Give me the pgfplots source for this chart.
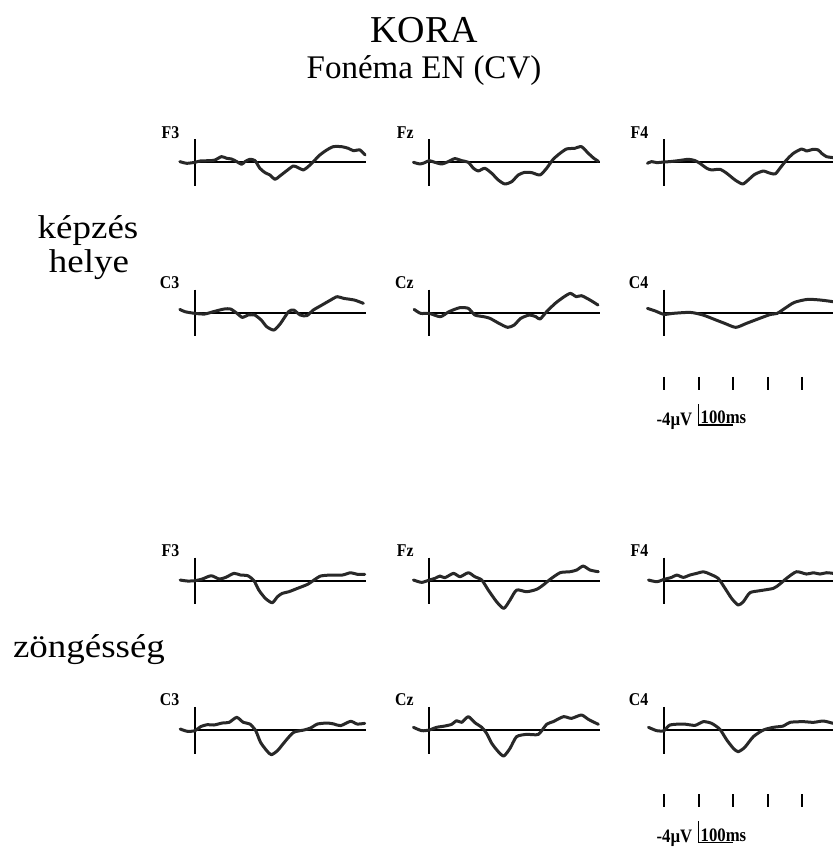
\documentclass[border=0pt]{standalone}
\usepackage{pgfplots}
\pgfplotsset{compat=1.18}
\usepackage{fontspec}
\setmainfont{Liberation Serif}
\newfontfamily\rowfont[FakeStretch=1.12]{Liberation Serif}
\newfontfamily\elfont[FakeStretch=0.88]{Liberation Serif}
\definecolor{wavecol}{RGB}{40,40,40}

\pgfplotsset{
 erp/.style={
   x=0.345pt, y=5.25pt, y dir=reverse,
   xmin=0, xmax=495, ymin=-4.4, ymax=4.5,
   enlargelimits=false,
   axis lines=middle,
   axis line style={black, line width=2pt},
   every inner x axis line/.append style={-},
   every inner y axis line/.append style={-},
   xtick=\empty, ytick=\empty,
   clip=false, anchor=origin,
 },
 wave/.style={color=wavecol, line width=3pt, smooth, tension=0.4, mark=none, line join=round, line cap=round},
}
\newcommand\elab[1]{\node[anchor=base east, inner sep=0pt, yshift=1pt, font=\elfont\bfseries\fontsize{18}{18}\selectfont] at (axis cs:-45,-4.4) {#1};}
\newcommand\scalebar{%
  \draw[black, line width=2pt] (axis cs:0,12.2) -- (axis cs:0,14.7);
  \draw[black, line width=2pt] (axis cs:100,12.2) -- (axis cs:100,14.7);
  \draw[black, line width=2pt] (axis cs:200,12.2) -- (axis cs:200,14.7);
  \draw[black, line width=2pt] (axis cs:300,12.2) -- (axis cs:300,14.7);
  \draw[black, line width=2pt] (axis cs:400,12.2) -- (axis cs:400,14.7);
  \draw[black, line width=1.5pt] (axis cs:100,17.4) -- (axis cs:100,21.4) -- (axis cs:201,21.4);
  \node[anchor=base east, inner sep=0pt, xshift=-6pt, font=\elfont\bfseries\fontsize{19}{19}\selectfont] at (axis cs:100,21.4) {-4µV};
  \node[anchor=base west, inner sep=0pt, xshift=2pt, yshift=1.2pt, font=\elfont\bfseries\fontsize{19}{19}\selectfont] at (axis cs:100,21.4) {100ms};
}

\begin{document}
\begin{tikzpicture}
\useasboundingbox (0,0) rectangle (833pt,-847pt);

% titles
\node[anchor=base, inner sep=0pt, font=\fontsize{38}{40}\selectfont] at (424pt,-42.7pt) {KORA};
\node[anchor=base, inner sep=0pt, font=\fontsize{33}{36}\selectfont] at (424pt,-78.3pt) {Fonéma EN (CV)};
\node[anchor=base, inner sep=0pt, font=\rowfont\fontsize{33}{36}\selectfont] at (88pt,-238pt) {képzés};
\node[anchor=base, inner sep=0pt, font=\rowfont\fontsize{33}{36}\selectfont] at (89pt,-272pt) {helye};
\node[anchor=base, inner sep=0pt, font=\rowfont\fontsize{33}{36}\selectfont] at (89pt,-657pt) {zöngésség};

%% ---------------- képzés helye ----------------
% F3
\begin{axis}[erp, at={(195pt,-162.3pt)}]
\addplot[wave] coordinates {
(-44,-0.13) (-24,0.19) (0,0) (15,-0.25) (44,-0.32) (58,-0.44) (77,-1.08) (92,-0.76)
(106,-0.63) (121,-0.13) (135,0.38) (145,-0.13) (159,-0.57) (174,-0.32) (188,1.14)
(203,1.97) (217,2.41) (232,3.24) (246,2.60) (266,1.59) (285,0.70) (299,1.02) (314,1.46)
(328,0.83) (343,-0.13) (362,-1.40) (382,-2.35) (401,-2.98) (425,-2.98) (444,-2.67)
(459,-2.22) (478,-2.35) (493,-1.40)};
\elab{F3}
\end{axis}
% Fz
\begin{axis}[erp, at={(429.3pt,-162.3pt)}]
\addplot[wave] coordinates {
(-46,0) (-27,0.32) (-13,0.06) (0,-0.32) (16,0) (36,0.32) (55,-0.13) (74,-0.70) (94,-0.32)
(113,0) (128,1.14) (142,1.65) (161,1.14) (181,2.10) (200,3.37) (219,4.13) (239,3.68)
(258,2.41) (277,1.90) (297,1.97) (321,2.41) (340,1.14) (359,-0.57) (379,-1.71)
(398,-2.54) (422,-2.67) (441,-2.98) (461,-1.71) (477,-0.76) (490,-0.19)};
\elab{Fz}
\end{axis}
% F4
\begin{axis}[erp, at={(664pt,-162.3pt)}]
\addplot[wave] coordinates {
(-48,0.19) (-36,-0.13) (-21,0.06) (0,-0.06) (17,-0.13) (42,-0.32) (71,-0.57) (90,-0.32)
(104,0.19) (124,1.14) (138,1.46) (162,1.33) (182,2.10) (206,3.37) (228,4.13) (244,3.37)
(263,2.29) (288,1.65) (302,1.97) (322,2.22) (336,1.14) (355,-0.44) (375,-1.71)
(399,-2.54) (413,-2.16) (433,-2.48) (447,-2.35) (457,-1.71) (471,-1.08) (490,-0.90)};
\elab{F4}
\end{axis}
% C3
\begin{axis}[erp, at={(195pt,-312.7pt)}]
\addplot[wave] coordinates {
(-44,-0.63) (-29,-0.19) (0,0.13) (28,0.25) (53,-0.19) (84,-0.70) (103,-0.70) (122,0.13)
(137,0.89) (154,0.44) (173,0.44) (192,1.40) (208,2.67) (229,3.30) (248,2.03) (271,-0.19)
(286,-0.51) (305,0.44) (324,0.57) (343,-0.51) (368,-1.46) (393,-2.41) (412,-3.05)
(431,-2.73) (462,-2.41) (488,-1.78)};
\elab{C3}
\end{axis}
% Cz
\begin{axis}[erp, at={(429.3pt,-312.7pt)}]
\addplot[wave] coordinates {
(-44,-0.63) (-25,0.13) (0,0.13) (32,0.76) (57,-0.19) (88,-0.95) (113,-0.83) (132,0.44)
(158,0.76) (176,1.08) (202,2.03) (227,2.79) (246,2.35) (265,1.08) (290,0.44) (309,0.76)
(321,1.21) (340,-0.19) (365,-1.78) (391,-3.05) (409,-3.68) (426,-3.05) (441,-3.24)
(466,-2.41) (489,-1.46)};
\elab{Cz}
\end{axis}
% C4
\begin{axis}[erp, at={(664pt,-312.7pt)}]
\addplot[wave] coordinates {
(-48,-0.83) (-25,-0.32) (0,0.32) (25,0.13) (76,-0.06) (113,0.44) (151,1.40) (176,2.03)
(208,2.79) (239,2.03) (277,1.08) (309,0.32) (328,0.13) (353,-0.95) (378,-1.97)
(416,-2.54) (454,-2.41) (490,-2.10)};
\elab{C4}
\scalebar
\end{axis}

%% ---------------- zöngésség ----------------
% F3
\begin{axis}[erp, at={(195pt,-580.7pt)}]
\addplot[wave] coordinates {
(-43,-0.13) (-22,0.06) (0,0) (21,-0.32) (47,-0.95) (70,-0.32) (89,-0.63) (113,-1.40)
(132,-1.08) (153,-0.95) (171,0) (185,1.78) (204,3.37) (224,4.19) (239,3.05) (253,2.41)
(272,2.10) (297,1.46) (326,0.70) (345,-0.13) (364,-0.89) (393,-1.08) (427,-1.08)
(451,-1.52) (471,-1.21) (492,-1.21)};
\elab{F3}
\end{axis}
% Fz
\begin{axis}[erp, at={(429.3pt,-580.7pt)}]
\addplot[wave] coordinates {
(-46,-0.13) (-22,0.32) (0,-0.13) (16,-0.44) (31,-0.89) (45,-0.57) (70,-1.40) (89,-0.76)
(113,-1.52) (132,-0.76) (152,-0.13) (171,1.78) (195,4.00) (216,5.27) (234,3.68)
(253,1.78) (282,2.10) (311,1.65) (330,0.83) (350,-0.25) (379,-1.52) (408,-1.71)
(427,-2.03) (446,-2.79) (466,-2.03) (490,-1.71)};
\elab{Fz}
\end{axis}
% F4
\begin{axis}[erp, at={(664pt,-580.7pt)}]
\addplot[wave] coordinates {
(-45,-0.13) (-21,0.19) (0,-0.25) (22,-0.63) (37,-1.08) (56,-0.63) (75,-1.08) (95,-1.40)
(114,-1.71) (133,-1.27) (157,-0.44) (177,1.46) (196,3.37) (215,4.63) (230,4.00)
(249,2.29) (278,1.90) (317,1.46) (336,0.63) (355,-0.44) (384,-1.71) (413,-1.27)
(433,-1.52) (452,-1.27) (471,-1.52) (490,-1.40)};
\elab{F4}
\end{axis}
% C3
\begin{axis}[erp, at={(195pt,-730pt)}]
\addplot[wave] coordinates {
(-43,-0.19) (-22,0.25) (0,0.13) (16,-0.63) (36,-1.02) (55,-0.95) (79,-1.33) (99,-1.46)
(121,-2.41) (140,-1.46) (159,-1.14) (176,0.13) (190,2.35) (208,3.94) (221,4.70)
(239,3.94) (263,2.03) (286,0.44) (316,0) (335,-0.38) (355,-1.14) (384,-1.33)
(403,-1.14) (422,-0.83) (451,-1.65) (470,-1.14) (492,-1.27)};
\elab{C3}
\end{axis}
% Cz
\begin{axis}[erp, at={(429.3pt,-730pt)}]
\addplot[wave] coordinates {
(-46,-0.51) (-22,0.13) (0,0) (21,-0.51) (45,-0.76) (65,-1.08) (79,-1.78) (94,-1.46)
(113,-2.54) (132,-1.40) (152,-0.51) (166,0.63) (181,2.54) (200,4.13) (216,4.95)
(234,3.49) (253,1.27) (282,0.83) (316,0.83) (340,-1.08) (359,-1.59) (389,-2.54)
(412,-2.22) (441,-2.86) (461,-2.03) (490,-1.08)};
\elab{Cz}
\end{axis}
% C4
\begin{axis}[erp, at={(664pt,-730pt)}]
\addplot[wave] coordinates {
(-45,-0.51) (-21,0.13) (0,0.13) (17,-0.95) (56,-1.14) (90,-0.89) (114,-1.59) (138,-1.27)
(162,-0.13) (182,1.90) (201,3.49) (215,4.13) (234,3.30) (259,1.27) (288,0) (317,-0.51)
(346,-0.76) (365,-1.46) (403,-1.59) (433,-1.46) (462,-1.71) (490,-1.27)};
\elab{C4}
\scalebar
\end{axis}
\end{tikzpicture}
\end{document}
